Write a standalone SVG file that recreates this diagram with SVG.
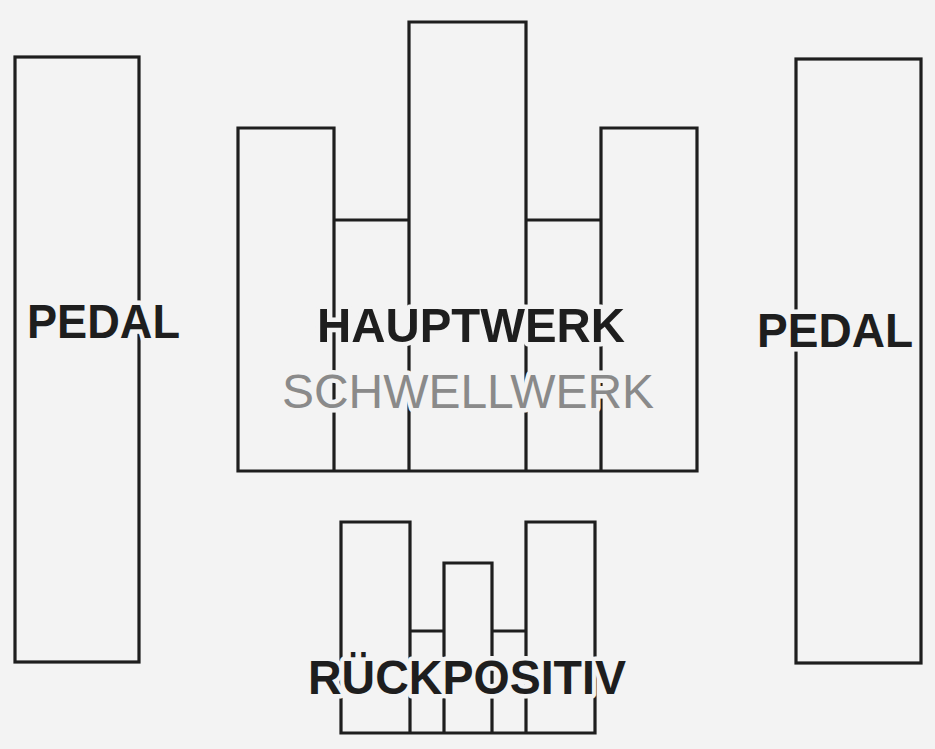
<svg xmlns="http://www.w3.org/2000/svg" width="935" height="749" viewBox="0 0 935 749">
<style>
.bg{fill:#f3f3f3}
.ln{fill:none;stroke:#1e1e1e;stroke-width:3.2;stroke-linejoin:miter}
.lbl{font-family:"Liberation Sans",Arial,sans-serif;font-weight:bold;font-size:49px;fill:#1e1e1e;stroke:#f3f3f3;stroke-width:9;paint-order:stroke;stroke-linejoin:round}
.sub{font-family:"Liberation Sans",Arial,sans-serif;font-weight:normal;font-size:48px;fill:#8a8a8a;stroke:#f3f3f3;stroke-width:9;paint-order:stroke;stroke-linejoin:round}
</style>
<rect class="bg" x="0" y="0" width="935" height="749"/>
<g id="pedal-left">
<rect class="ln" x="15" y="57" width="124" height="605"/>
<text class="lbl" x="27" y="338" textLength="153" lengthAdjust="spacingAndGlyphs">PEDAL</text>
</g>
<g id="pedal-right">
<rect class="ln" x="796" y="59" width="125" height="604"/>
<text class="lbl" x="757" y="347" textLength="156" lengthAdjust="spacingAndGlyphs">PEDAL</text>
</g>
<g id="hauptwerk">
<path class="ln" d="M238,471 V128 H334 V220 H409 V22 H526 V220 H601 V128 H697 V471 Z M334,220 V471 M409,220 V471 M526,220 V471 M601,128 V471"/>
<text class="lbl" x="317" y="342" textLength="308" lengthAdjust="spacingAndGlyphs">HAUPTWERK</text>
</g>
<g id="schwellwerk">
<text class="sub" x="282" y="408" textLength="372" lengthAdjust="spacingAndGlyphs">SCHWELLWERK</text>
</g>
<g id="rueckpositiv">
<path class="ln" d="M341,733 V522 H410 V631 H444 V563 H492 V631 H526 V522 H595 V733 Z M410,631 V733 M444,631 V733 M492,631 V733 M526,631 V733"/>
<text class="lbl" x="308" y="694" textLength="318" lengthAdjust="spacingAndGlyphs">RÜCKPOSITIV</text>
</g>
<g id="connectors"/>
</svg>
